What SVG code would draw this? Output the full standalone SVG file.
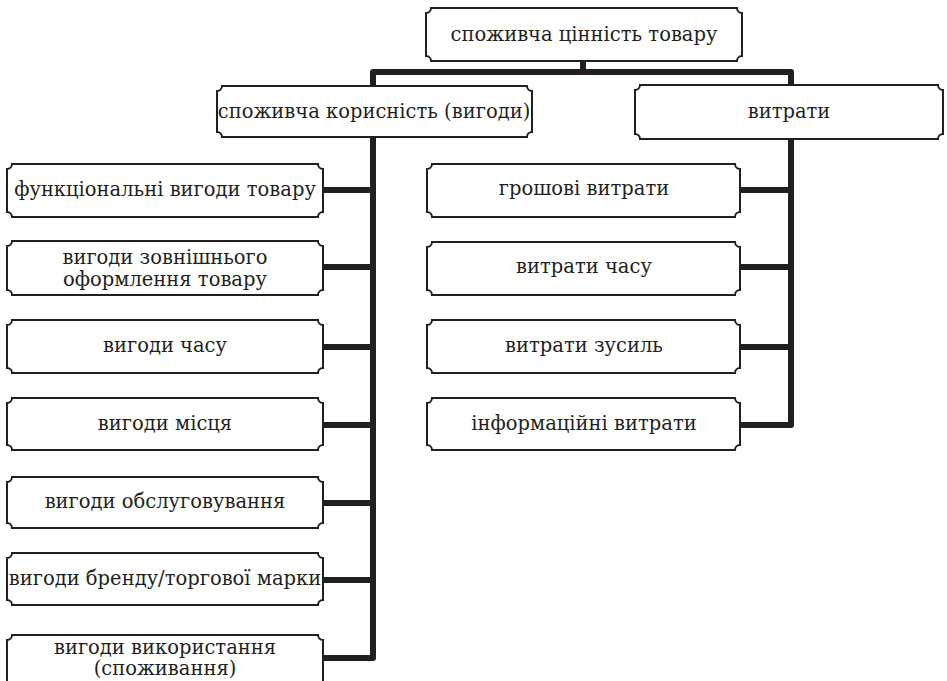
<svg xmlns="http://www.w3.org/2000/svg" width="947" height="681" viewBox="0 0 947 681">
<style>
.box{fill:#fff;stroke:#231f20;stroke-width:2}
.t{font-family:"DejaVu Serif","Liberation Serif",serif;font-size:19.5px;fill:#231f20;text-anchor:middle}
.c{fill:none;stroke:#231f20;stroke-width:6;stroke-linecap:round;stroke-linejoin:round}
</style>
<rect width="947" height="681" fill="#fff"/>
<g id="connectors">
<path class="c" d="M583,62 V72"/>
<path class="c" d="M373,86 V72 H791 V85"/>
<path class="c" d="M373,138 V658 H323"/>
<path class="c" d="M323,190 H373 M323,267 H373 M323,347 H373 M323,425 H373 M323,503 H373 M323,580 H373"/>
<path class="c" d="M791,139 V425 H740"/>
<path class="c" d="M740,190 H791 M740,267 H791 M740,347 H791"/>
</g>
<g id="n-top">
<path class="box" d="M431,8 H737 A5,5 0 0 0 742,13 V56 A5,5 0 0 0 737,61 H431 A5,5 0 0 0 426,56 V13 A5,5 0 0 0 431,8 Z"/>
<text class="t" x="584" y="41">споживча цінність товару</text>
</g>
<g id="n-benefit">
<path class="box" d="M222,86 H527 A5,5 0 0 0 532,91 V132 A5,5 0 0 0 527,137 H222 A5,5 0 0 0 217,132 V91 A5,5 0 0 0 222,86 Z"/>
<text class="t" x="374" y="118">споживча корисність (вигоди)</text>
</g>
<g id="n-costs">
<path class="box" d="M640,85 H938 A5,5 0 0 0 943,90 V134 A5,5 0 0 0 938,139 H640 A5,5 0 0 0 635,134 V90 A5,5 0 0 0 640,85 Z"/>
<text class="t" x="789" y="118">витрати</text>
</g>
<g id="n-l1">
<path class="box" d="M12,164 H318 A5,5 0 0 0 323,169 V212 A5,5 0 0 0 318,217 H12 A5,5 0 0 0 7,212 V169 A5,5 0 0 0 12,164 Z"/>
<text class="t" x="165" y="196">функціональні вигоди товару</text>
</g>
<g id="n-l2">
<path class="box" d="M12,241 H318 A5,5 0 0 0 323,246 V290 A5,5 0 0 0 318,295 H12 A5,5 0 0 0 7,290 V246 A5,5 0 0 0 12,241 Z"/>
<text class="t" x="165" y="264">вигоди зовнішнього</text>
<text class="t" x="165" y="286">оформлення товару</text>
</g>
<g id="n-l3">
<path class="box" d="M12,320 H318 A5,5 0 0 0 323,325 V368 A5,5 0 0 0 318,373 H12 A5,5 0 0 0 7,368 V325 A5,5 0 0 0 12,320 Z"/>
<text class="t" x="165" y="352">вигоди часу</text>
</g>
<g id="n-l4">
<path class="box" d="M12,398 H318 A5,5 0 0 0 323,403 V445 A5,5 0 0 0 318,450 H12 A5,5 0 0 0 7,445 V403 A5,5 0 0 0 12,398 Z"/>
<text class="t" x="165" y="430">вигоди місця</text>
</g>
<g id="n-l5">
<path class="box" d="M12,477 H318 A5,5 0 0 0 323,482 V523 A5,5 0 0 0 318,528 H12 A5,5 0 0 0 7,523 V482 A5,5 0 0 0 12,477 Z"/>
<text class="t" x="165" y="508">вигоди обслуговування</text>
</g>
<g id="n-l6">
<path class="box" d="M12,553 H318 A5,5 0 0 0 323,558 V600 A5,5 0 0 0 318,605 H12 A5,5 0 0 0 7,600 V558 A5,5 0 0 0 12,553 Z"/>
<text class="t" x="165" y="585">вигоди бренду/торгової марки</text>
</g>
<g id="n-l7">
<path class="box" d="M12,635 H318 A5,5 0 0 0 323,640 V685 A5,5 0 0 0 318,690 H12 A5,5 0 0 0 7,685 V640 A5,5 0 0 0 12,635 Z"/>
<text class="t" x="165" y="654">вигоди використання</text>
<text class="t" x="165" y="675">(споживання)</text>
</g>
<g id="n-r1">
<path class="box" d="M432,164 H735 A5,5 0 0 0 740,169 V212 A5,5 0 0 0 735,217 H432 A5,5 0 0 0 427,212 V169 A5,5 0 0 0 432,164 Z"/>
<text class="t" x="584" y="195">грошові витрати</text>
</g>
<g id="n-r2">
<path class="box" d="M432,242 H735 A5,5 0 0 0 740,247 V290 A5,5 0 0 0 735,295 H432 A5,5 0 0 0 427,290 V247 A5,5 0 0 0 432,242 Z"/>
<text class="t" x="584" y="273">витрати часу</text>
</g>
<g id="n-r3">
<path class="box" d="M432,320 H735 A5,5 0 0 0 740,325 V368 A5,5 0 0 0 735,373 H432 A5,5 0 0 0 427,368 V325 A5,5 0 0 0 432,320 Z"/>
<text class="t" x="584" y="352">витрати зусиль</text>
</g>
<g id="n-r4">
<path class="box" d="M432,398 H735 A5,5 0 0 0 740,403 V445 A5,5 0 0 0 735,450 H432 A5,5 0 0 0 427,445 V403 A5,5 0 0 0 432,398 Z"/>
<text class="t" x="584" y="430">інформаційні витрати</text>
</g>
</svg>
